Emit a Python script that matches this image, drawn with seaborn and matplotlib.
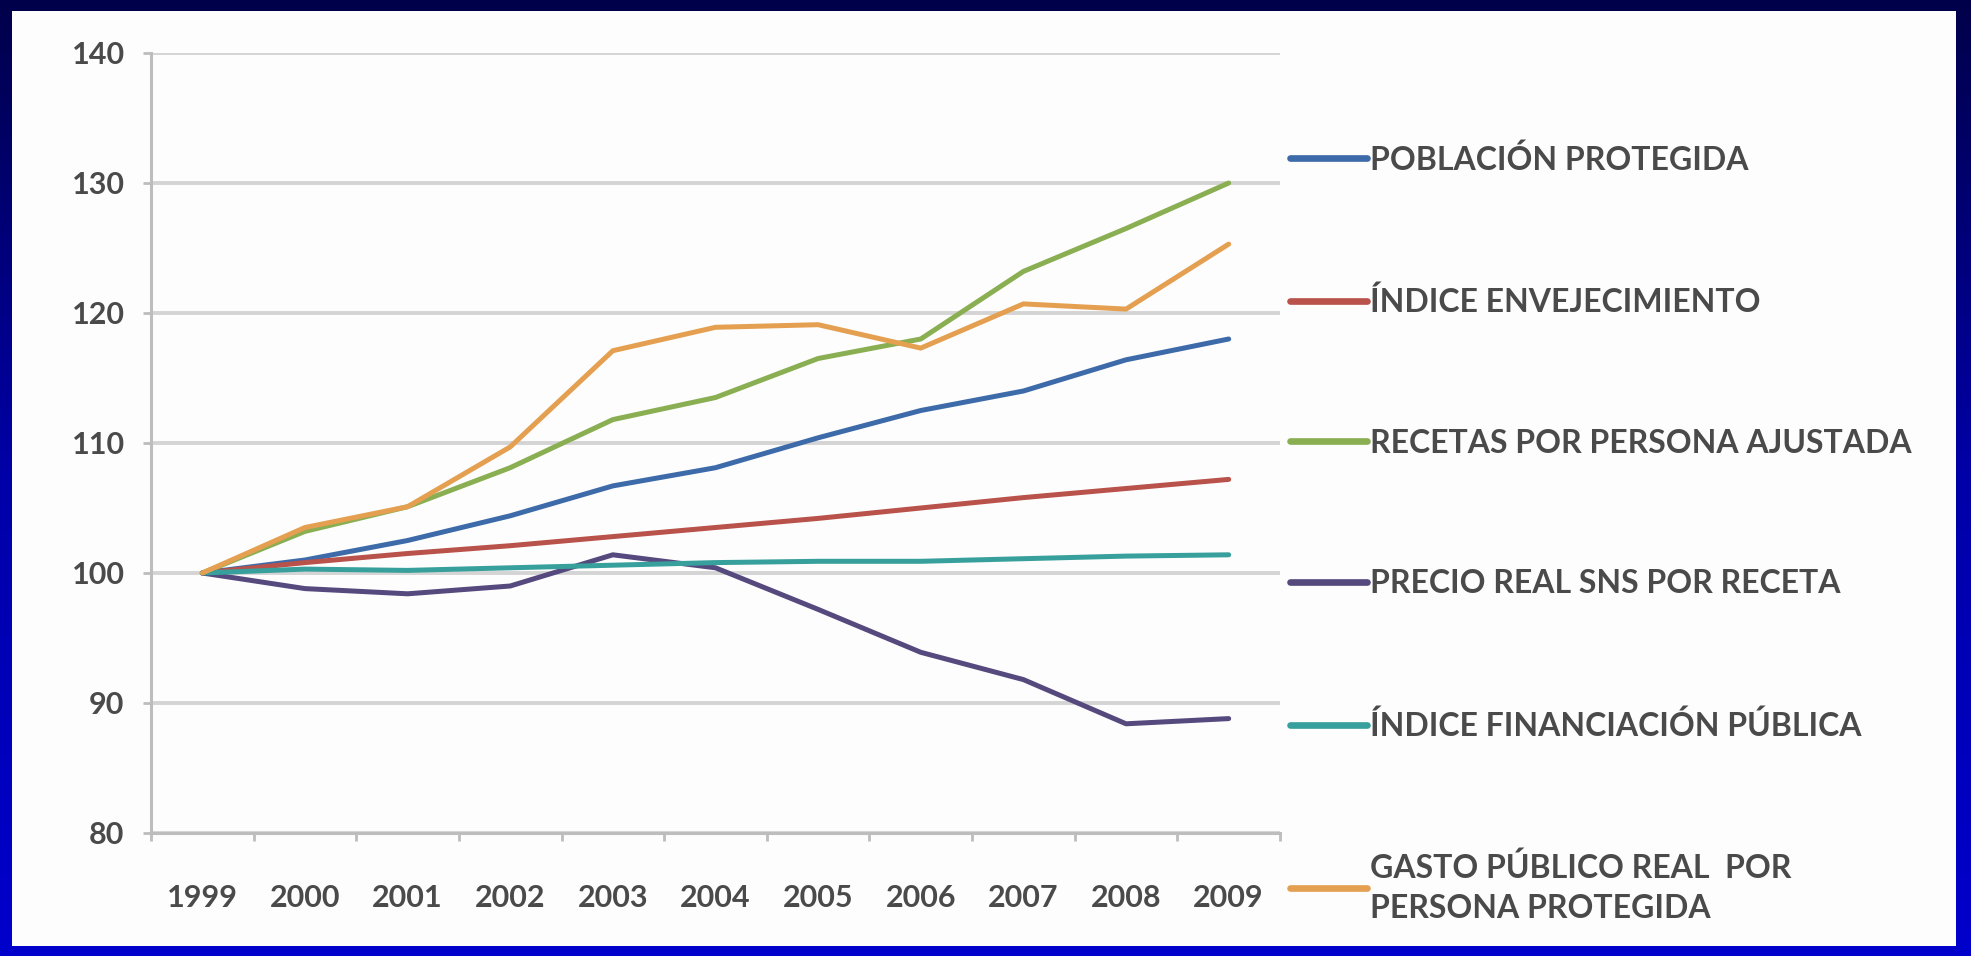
import numpy as np
import pandas as pd
import matplotlib
matplotlib.use("Agg")
import matplotlib.pyplot as plt
import seaborn as sns
from matplotlib.colors import LinearSegmentedColormap
from matplotlib.lines import Line2D
from matplotlib.patches import Rectangle

# Index values (1999 = 100)
years = ["1999", "2000", "2001", "2002", "2003", "2004", "2005", "2006", "2007", "2008", "2009"]
poblacion_protegida = [100, 101.0, 102.5, 104.4, 106.7, 108.1, 110.4, 112.5, 114.0, 116.4, 118.0]
indice_envejecimiento = [100, 100.8, 101.5, 102.1, 102.8, 103.5, 104.2, 105.0, 105.8, 106.5, 107.2]
recetas_persona = [100, 103.2, 105.1, 108.1, 111.8, 113.5, 116.5, 118.0, 123.2, 126.5, 130.0]
precio_real_receta = [100, 98.8, 98.4, 99.0, 101.4, 100.4, 97.2, 93.9, 91.8, 88.4, 88.8]
indice_financiacion = [100, 100.3, 100.2, 100.4, 100.6, 100.8, 100.9, 100.9, 101.1, 101.3, 101.4]
gasto_publico = [100, 103.5, 105.1, 109.7, 117.1, 118.9, 119.1, 117.3, 120.7, 120.3, 125.3]

series_names = [
    "POBLACIÓN PROTEGIDA",
    "ÍNDICE ENVEJECIMIENTO",
    "RECETAS POR PERSONA AJUSTADA",
    "PRECIO REAL SNS POR RECETA",
    "ÍNDICE FINANCIACIÓN PÚBLICA",
    "GASTO PÚBLICO REAL  POR\nPERSONA PROTEGIDA",
]
series_values = [poblacion_protegida, indice_envejecimiento, recetas_persona,
                 precio_real_receta, indice_financiacion, gasto_publico]
series_colors = ["#3d6aa8", "#b8524a", "#8aae52", "#55497e", "#38a09c", "#e4a050"]

y_ticks = [80, 90, 100, 110, 120, 130, 140]

positions = np.arange(len(years))
df = pd.DataFrame({
    "pos": np.tile(positions, len(series_names)),
    "serie": np.repeat(series_names, len(years)),
    "valor": np.concatenate(series_values),
})

sns.set_theme(style="white")
plt.rcParams["font.family"] = ["Lato", "DejaVu Sans"]

TEXT_COLOR = "#4a4a4a"
W, H = 1971, 956
fig = plt.figure(figsize=(W / 100, H / 100), dpi=100)

# Blue slide frame with a white panel
bg = fig.add_axes([0, 0, 1, 1], zorder=-10)
frame_cmap = LinearSegmentedColormap.from_list("frame", ["#00004a", "#0000a8", "#0000cc"])
bg.imshow(np.linspace(0, 1, 256).reshape(-1, 1), aspect="auto", cmap=frame_cmap,
          extent=[0, 1, 0, 1])
bg.add_patch(Rectangle((12 / W, 1 - 946 / H), (1956 - 12) / W, (946 - 11) / H,
                       transform=bg.transAxes, facecolor="#fdfdfd", edgecolor="none"))
bg.set_xlim(0, 1)
bg.set_ylim(0, 1)
bg.axis("off")

ax = fig.add_axes([151 / W, 1 - 833 / H, (1280 - 151) / W, (833 - 53) / H])
ax.set_facecolor("none")

palette = dict(zip(series_names, series_colors))
sns.lineplot(data=df, x="pos", y="valor", hue="serie", hue_order=series_names,
             palette=palette, linewidth=3.6, sort=False, legend=False, ax=ax)

ax.set_xlim(-0.5, len(years) - 0.5)
ax.set_ylim(y_ticks[0], y_ticks[-1])
ax.set_yticks(y_ticks)
ax.set_yticklabels([str(t) for t in y_ticks])
ax.set_xticks(positions)
ax.set_xticklabels(years)
ax.set_xticks(np.arange(-0.5, len(years), 1.0), minor=True)
ax.set_xlabel("")
ax.set_ylabel("")

ax.yaxis.grid(True, color="#d4d4d4", linewidth=2.8)
ax.xaxis.grid(False)
ax.set_axisbelow(True)
for side in ("top", "right"):
    ax.spines[side].set_visible(False)
for side in ("left", "bottom"):
    ax.spines[side].set_color("#bdbdbd")
    ax.spines[side].set_linewidth(2.2)

ax.tick_params(axis="y", which="major", left=True, length=6, width=2, color="#bdbdbd",
               labelsize=22, labelcolor=TEXT_COLOR, pad=13)
ax.tick_params(axis="x", which="major", bottom=False, labelsize=22, labelcolor=TEXT_COLOR, pad=31)
ax.tick_params(axis="x", which="minor", bottom=True, length=6, width=2, color="#bdbdbd")
for lbl in ax.get_xticklabels() + ax.get_yticklabels():
    lbl.set_fontweight("bold")

handles = [Line2D([], [], color=c, linewidth=4.8) for c in series_colors]
leg = ax.legend(handles, series_names, loc="upper left", bbox_to_anchor=(1290 / W, 1 - 144 / H),
                bbox_transform=fig.transFigure, frameon=False,
                prop={"size": 23, "weight": "bold"},
                handlelength=2.4, handletextpad=0.12, labelspacing=3.5, labelcolor=TEXT_COLOR,
                borderaxespad=0, borderpad=0)
for txt in leg.get_texts():
    txt.set_linespacing(1.45)

fig.savefig("out.png", dpi=100)
